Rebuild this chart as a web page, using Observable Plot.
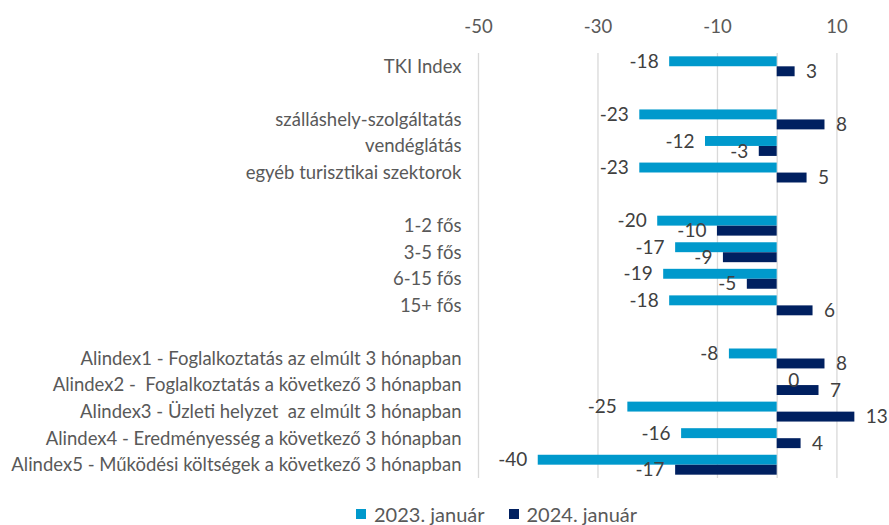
<!DOCTYPE html>
<html><head><meta charset="utf-8">
<script src="https://cdn.jsdelivr.net/npm/d3@7"></script>
<script src="https://cdn.jsdelivr.net/npm/@observablehq/plot@0.6"></script>
<style>
body{margin:0;background:#fff;font-family:Lato,sans-serif;}
#chart{position:relative;width:889px;height:525px;}
svg text{white-space:pre;}
.legend{position:absolute;top:502px;left:356px;display:flex;align-items:center;font-size:20px;color:#595959;white-space:pre;}
.sw{display:inline-block;width:10px;height:10px;margin-right:8px;}
</style></head>
<body><div id="chart"></div>
<script>
const categories = ["TKI Index", "", "szálláshely-szolgáltatás", "vendéglátás", "egyéb turisztikai szektorok", " ", "1-2 fős", "3-5 fős", "6-15 fős", "15+ fős", "  ", "Alindex1 - Foglalkoztatás az elmúlt 3 hónapban", "Alindex2 -  Foglalkoztatás a következő 3 hónapban", "Alindex3 - Üzleti helyzet  az elmúlt 3 hónapban", "Alindex4 - Eredményesség a következő 3 hónapban", "Alindex5 - Működési költségek a következő 3 hónapban"];
const values2023 = [-18, null, -23, -12, -23, null, -20, -17, -19, -18, null, -8, 0, -25, -16, -40];
const values2024 = [3, null, 8, -3, 5, null, -10, -9, -5, 6, null, 8, 7, 13, 4, -17];
const seriesNames = ["2023. január", "2024. január"];
const colors = ["#0099CC", "#002060"];
const xTicks = [-50, -30, -10, 10];

const d2023 = categories.map((c, i) => ({category: c, value: values2023[i]})).filter(d => d.value !== null);
const d2024 = categories.map((c, i) => ({category: c, value: values2024[i]})).filter(d => d.value !== null);

const labelMarks = (data, dy) => [
  Plot.text(data.filter(d => d.value >= 0), {x: "value", y: "category", text: d => String(d.value), textAnchor: "start", dx: 11, dy, fill: "#404040", fontSize: 19}),
  Plot.text(data.filter(d => d.value < 0), {x: "value", y: "category", text: d => String(d.value), textAnchor: "end", dx: -11, dy, fill: "#404040", fontSize: 19})
];

const chart = Plot.plot({
  width: 889, height: 495,
  marginLeft: 478, marginRight: 0, marginTop: 53, marginBottom: 17,
  style: {fontFamily: "Lato, sans-serif", fontSize: "18px", color: "#595959", background: "white", overflow: "visible"},
  x: {domain: [-50, 18.8]},
  y: {domain: categories, paddingInner: 0.25, paddingOuter: 0.125, round: false},
  marks: [
    Plot.ruleX(xTicks, {stroke: "#d9d9d9", strokeWidth: 1.3}),
    Plot.ruleX([0], {stroke: "#d9d9d9", strokeWidth: 1.3}),
    Plot.barX(d2023, {x: "value", y: "category", fill: colors[0], insetBottom: 10}),
    Plot.barX(d2024, {x: "value", y: "category", fill: colors[1], insetTop: 10}),
    ...labelMarks(d2023, -5),
    ...labelMarks(d2024, 5),
    Plot.axisX({anchor: "top", ticks: xTicks, tickSize: 0, tickPadding: 21, fontSize: 18.5, tickFormat: d => String(d), label: null}),
    Plot.axisY({anchor: "left", tickSize: 0, tickPadding: 17, fontSize: 18.5, tickFormat: d => d, label: null})
  ]
});
const root = document.getElementById("chart");
root.appendChild(chart);
const lg = document.createElement("div");
lg.className = "legend";
lg.innerHTML = `<span class="sw" style="background:${colors[0]}"></span><span>${seriesNames[0]}</span><span style="width:24px"></span><span class="sw" style="background:${colors[1]}"></span><span>${seriesNames[1]}</span>`;
root.appendChild(lg);
</script></body></html>
